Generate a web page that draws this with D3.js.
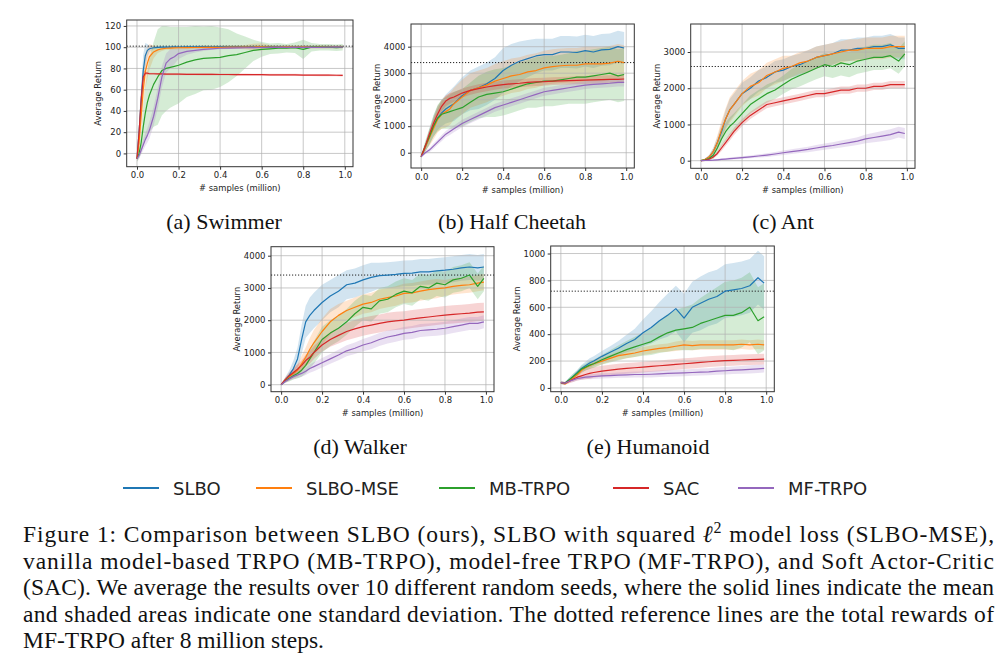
<!DOCTYPE html>
<html><head><meta charset="utf-8">
<script src="https://cdn.jsdelivr.net/npm/d3@7"></script>
<style>body{margin:0;background:#fff;} svg{display:block}</style>
</head><body><svg id="fig" width="1006" height="664"></svg>
<script>
// ---------------- DATA ----------------
const LEGEND = ["SLBO", "SLBO-MSE", "MB-TRPO", "SAC", "MF-TRPO"];
const COLORS = ["#1f77b4", "#ff7f0e", "#2ca02c", "#d62728", "#9467bd"];
const X_TICKS = [0, 0.2, 0.4, 0.6, 0.8, 1.0];
const X_SWIM = [0, 0.01, 0.02, 0.03, 0.04, 0.05, 0.06, 0.08, 0.1, 0.12, 0.14, 0.16, 0.18, 0.2, 0.24, 0.28, 0.32, 0.36, 0.4, 0.44, 0.48, 0.52, 0.56, 0.6, 0.64, 0.68, 0.72, 0.76, 0.8, 0.84, 0.88, 0.92, 0.96, 0.99];
const X_STEP = [0, 0.02, 0.04, 0.06, 0.08, 0.1, 0.12, 0.14, 0.16, 0.2, 0.24, 0.28, 0.32, 0.36, 0.4, 0.44, 0.48, 0.52, 0.56, 0.6, 0.64, 0.68, 0.72, 0.76, 0.8, 0.84, 0.88, 0.92, 0.96, 0.99];

// (a) Swimmer
const swTicks = [0, 20, 40, 60, 80, 100, 120];
const swRef = 101;
const swSLBO = [-5, 20, 50, 78, 92, 97, 98.5, 99.5, 99.8, 100, 100.2, 100.1, 100.3, 100.2, 100.4, 100.3, 100.5, 100.4, 100.5, 100.6, 100.5, 100.4, 100.6, 100.5, 100.5, 100.6, 100.5, 100.4, 100.6, 100.5, 100.6, 100.5, 100.6, 100.5];
const swSLBOsd = [3, 10, 15, 15, 12, 6, 3, 1.5, 1, 1, 1, 1, 1, 1, 1, 1, 1, 1, 1, 1, 1, 1, 1.2, 1.2, 1, 1, 1, 1, 1, 1, 1, 1, 1, 1];
const swMSE = [-5, 10, 35, 60, 77, 85, 91, 95.5, 97.5, 98.5, 99, 99.2, 99.4, 99.5, 99.6, 99.7, 99.8, 99.8, 99.9, 100, 100, 100.1, 100.2, 100.3, 100.1, 100.2, 100.3, 100.2, 100.3, 100.2, 100.3, 100.3, 100.2, 100.3];
const swMSEsd = [3, 8, 15, 18, 16, 15, 12, 6, 3, 2, 1.5, 1.5, 1.5, 1.5, 1.5, 1.5, 1.5, 1.5, 1.5, 1.5, 1.5, 2, 3, 3.5, 2, 1.5, 1.5, 1.5, 1.5, 1.5, 1.5, 1.5, 1.5, 1.5];
const swMB = [-5, 0, 10, 25, 38, 48, 55, 65, 72, 78, 80, 81, 82, 83, 86, 88, 89.5, 90, 90.5, 92, 93, 95, 97, 98, 98.5, 99, 99, 99.5, 98, 100, 100, 100, 99.5, 100];
const swMBsd = [3, 5, 10, 18, 25, 30, 35, 40, 45, 42, 40, 38, 37, 36, 33, 32, 30, 30, 28, 25, 20, 15, 10, 7, 5, 5, 4, 5, 9, 4, 3, 3, 3, 3];
const swSAC = [-5, 20, 50, 72, 75.5, 75.5, 75, 75, 74.8, 74.8, 74.7, 74.7, 74.6, 74.6, 74.5, 74.5, 74.4, 74.4, 74.3, 74.3, 74.2, 74.2, 74.1, 74.1, 74, 74, 73.9, 73.9, 73.8, 73.8, 73.7, 73.7, 73.6, 73.5];
const swSACsd = [3, 8, 10, 6, 2, 1.5, 1, 1, 1, 1, 1, 1, 1, 1, 1, 1, 1, 1, 1, 1, 1, 1, 1, 1, 1, 1, 1, 1, 1, 1, 1, 1, 1, 1];
const swMF = [-5, -2, 3, 8, 13, 17, 22, 35, 52, 72, 85, 89, 91, 94, 96, 97, 98, 98.5, 99, 99.2, 99.4, 99.5, 99.6, 99.7, 99.7, 99.8, 99.8, 99.8, 99.9, 99.9, 99.9, 100, 100, 100];
const swMFsd = [2, 3, 4, 5, 6, 7, 8, 9, 10, 10, 9, 9, 7, 5, 3, 2, 1.5, 1, 1, 1, 1, 1, 1, 1, 1, 1, 1, 1, 1, 1, 1, 1, 1, 1];

// (b) Half Cheetah
const hcTicks = [0, 1000, 2000, 3000, 4000];
const hcRef = 3400;
const hcSLBO = [-150, 200, 600, 1000, 1300, 1500, 1650, 1750, 1850, 2150, 2350, 2450, 2600, 2800, 3100, 3300, 3450, 3550, 3650, 3700, 3700, 3800, 3800, 3780, 3850, 3800, 3880, 3900, 4000, 3950];
const hcSLBOsd = [50, 150, 300, 400, 450, 500, 550, 600, 650, 700, 750, 800, 800, 800, 850, 800, 750, 700, 650, 600, 600, 600, 600, 600, 600, 600, 600, 600, 600, 600];
const hcMSE = [-150, 200, 550, 900, 1250, 1450, 1550, 1650, 1850, 2100, 2350, 2450, 2550, 2700, 2800, 2900, 2950, 3050, 3100, 3200, 3250, 3280, 3300, 3300, 3350, 3350, 3350, 3380, 3450, 3400];
const hcMSEsd = [50, 150, 300, 400, 500, 550, 600, 600, 600, 650, 650, 650, 650, 650, 650, 650, 650, 650, 650, 650, 650, 650, 650, 650, 650, 650, 650, 650, 650, 650];
const hcMB = [-150, 250, 600, 1000, 1300, 1450, 1500, 1550, 1600, 1700, 1900, 2100, 2200, 2250, 2300, 2400, 2500, 2600, 2650, 2700, 2700, 2750, 2800, 2850, 2850, 2900, 2950, 3000, 2900, 2950];
const hcMBsd = [50, 200, 300, 400, 500, 550, 600, 650, 700, 700, 750, 800, 850, 900, 900, 900, 900, 900, 950, 950, 950, 950, 950, 1000, 1000, 1000, 1000, 1000, 1000, 1000];
const hcSAC = [-150, 250, 700, 1100, 1450, 1750, 1950, 2050, 2100, 2250, 2350, 2420, 2480, 2530, 2570, 2600, 2620, 2650, 2670, 2680, 2700, 2710, 2720, 2730, 2740, 2750, 2760, 2770, 2770, 2780];
const hcSACsd = [30, 100, 150, 200, 200, 200, 200, 200, 180, 170, 160, 160, 160, 150, 150, 150, 150, 150, 150, 150, 150, 150, 150, 150, 150, 150, 150, 150, 150, 150];
const hcMF = [-150, 0, 100, 250, 400, 550, 700, 800, 900, 1100, 1250, 1400, 1550, 1700, 1800, 1900, 2000, 2100, 2200, 2300, 2350, 2400, 2450, 2500, 2550, 2580, 2600, 2620, 2650, 2650];
const hcMFsd = [30, 60, 80, 100, 100, 120, 120, 130, 130, 140, 140, 150, 150, 150, 150, 150, 150, 150, 150, 150, 150, 150, 150, 150, 150, 150, 150, 150, 150, 150];

// (c) Ant
const antTicks = [0, 1000, 2000, 3000];
const antRef = 2600;
const antSLBO = [0, 30, 100, 250, 500, 800, 1150, 1400, 1550, 1850, 2000, 2200, 2300, 2450, 2500, 2600, 2650, 2750, 2850, 2900, 2950, 3050, 3050, 3100, 3100, 3150, 3150, 3200, 3100, 3100];
const antSLBOsd = [10, 30, 60, 100, 150, 200, 250, 300, 300, 300, 300, 300, 300, 300, 300, 300, 300, 300, 300, 300, 300, 300, 300, 300, 300, 300, 300, 300, 300, 300];
const antMSE = [0, 30, 100, 250, 500, 850, 1150, 1400, 1550, 1850, 2050, 2150, 2350, 2450, 2550, 2600, 2700, 2750, 2850, 2900, 2950, 3000, 3050, 3050, 3100, 3100, 3100, 3150, 3150, 3150];
const antMSEsd = [10, 30, 60, 100, 200, 250, 300, 350, 350, 350, 350, 350, 350, 350, 350, 300, 300, 300, 300, 300, 300, 300, 300, 300, 300, 300, 300, 300, 300, 300];
const antMB = [0, 20, 60, 150, 350, 600, 800, 950, 1050, 1300, 1550, 1700, 1850, 1950, 2100, 2250, 2350, 2450, 2550, 2650, 2600, 2700, 2650, 2750, 2800, 2850, 2850, 2900, 2750, 2950];
const antMBsd = [10, 20, 50, 100, 150, 200, 250, 250, 250, 250, 250, 250, 250, 250, 250, 280, 300, 300, 300, 320, 320, 350, 350, 350, 350, 350, 350, 350, 350, 350];
const antSAC = [0, 10, 40, 100, 200, 350, 500, 650, 800, 1050, 1250, 1400, 1550, 1600, 1650, 1700, 1750, 1800, 1850, 1850, 1900, 1950, 1950, 2000, 2000, 2050, 2050, 2100, 2100, 2100];
const antSACsd = [5, 10, 20, 40, 60, 80, 90, 100, 100, 100, 100, 100, 100, 100, 100, 100, 100, 100, 100, 100, 100, 100, 100, 100, 100, 100, 100, 100, 100, 100];
const antMF = [0, 5, 10, 15, 25, 35, 45, 55, 65, 85, 105, 130, 155, 185, 220, 250, 280, 310, 350, 390, 420, 460, 500, 540, 600, 640, 680, 720, 790, 750];
const antMFsd = [5, 10, 15, 20, 25, 30, 30, 35, 35, 40, 40, 45, 50, 55, 60, 65, 70, 75, 80, 85, 90, 95, 100, 110, 120, 130, 140, 150, 150, 150];

// (d) Walker
const wkTicks = [0, 1000, 2000, 3000, 4000];
const wkRef = 3400;
const wkSLBO = [0, 150, 300, 500, 800, 1400, 1950, 2150, 2300, 2550, 2750, 2900, 3100, 3150, 3250, 3330, 3380, 3400, 3420, 3450, 3460, 3500, 3500, 3530, 3550, 3580, 3620, 3650, 3620, 3650];
const wkSLBOsd = [20, 80, 150, 250, 350, 450, 500, 550, 550, 550, 500, 500, 450, 450, 450, 450, 400, 400, 400, 400, 400, 400, 400, 400, 400, 400, 400, 400, 400, 400];
const wkMSE = [0, 150, 250, 350, 450, 650, 850, 1100, 1300, 1650, 1950, 2150, 2300, 2400, 2500, 2550, 2650, 2700, 2750, 2830, 2850, 2900, 2950, 2980, 3000, 3050, 3080, 3100, 3150, 3180];
const wkMSEsd = [20, 80, 120, 150, 200, 250, 300, 350, 400, 400, 400, 350, 300, 300, 300, 300, 300, 300, 300, 300, 300, 300, 300, 300, 250, 250, 250, 250, 250, 250];
const wkMB = [0, 120, 200, 280, 350, 450, 600, 800, 1000, 1400, 1600, 1750, 1950, 2200, 2400, 2350, 2600, 2650, 2800, 2900, 2850, 3050, 3000, 3150, 3100, 3250, 3300, 3400, 3050, 3300];
const wkMBsd = [20, 60, 100, 120, 150, 200, 250, 300, 350, 400, 400, 400, 400, 400, 400, 400, 400, 400, 400, 400, 400, 400, 400, 400, 400, 400, 400, 400, 400, 400];
const wkSAC = [0, 150, 280, 380, 480, 600, 750, 850, 1000, 1230, 1400, 1530, 1650, 1730, 1800, 1850, 1900, 1950, 1980, 2000, 2040, 2070, 2100, 2130, 2160, 2180, 2200, 2220, 2250, 2260];
const wkSACsd = [20, 60, 100, 120, 150, 150, 180, 200, 200, 200, 220, 250, 270, 280, 280, 280, 280, 280, 280, 280, 280, 280, 280, 280, 280, 280, 280, 280, 280, 280];
const wkMF = [0, 100, 180, 250, 300, 350, 420, 500, 560, 680, 800, 920, 1050, 1130, 1230, 1300, 1400, 1480, 1530, 1590, 1620, 1680, 1700, 1720, 1750, 1800, 1850, 1900, 1900, 1950];
const wkMFsd = [20, 50, 60, 80, 100, 100, 120, 130, 140, 150, 150, 160, 170, 180, 190, 200, 200, 200, 200, 200, 200, 200, 200, 200, 200, 200, 200, 200, 200, 200];

// (e) Humanoid
const huTicks = [0, 200, 400, 600, 800, 1000];
const huRef = 720;
const huSLBO = [40, 35, 60, 85, 115, 145, 165, 185, 200, 235, 265, 295, 330, 360, 410, 450, 500, 540, 590, 520, 600, 630, 660, 680, 720, 730, 740, 760, 820, 780];
const huSLBOsd = [10, 10, 15, 20, 20, 25, 30, 35, 35, 40, 45, 55, 65, 80, 100, 120, 140, 160, 170, 180, 190, 200, 200, 200, 200, 200, 200, 200, 200, 200];
const huMSE = [40, 30, 50, 75, 100, 130, 150, 165, 180, 200, 220, 240, 250, 260, 275, 285, 295, 300, 310, 320, 315, 320, 320, 320, 320, 320, 325, 320, 325, 320];
const huMSEsd = [10, 10, 15, 15, 20, 20, 20, 25, 25, 25, 25, 30, 30, 30, 30, 30, 30, 30, 35, 35, 35, 35, 35, 35, 35, 35, 35, 35, 35, 35];
const huMB = [40, 35, 60, 85, 110, 140, 155, 170, 180, 210, 235, 260, 285, 305, 325, 345, 380, 410, 430, 440, 450, 480, 500, 520, 540, 540, 560, 600, 500, 530];
const huMBsd = [10, 10, 15, 20, 20, 25, 25, 30, 30, 35, 45, 55, 65, 75, 85, 100, 120, 140, 150, 160, 170, 190, 210, 230, 250, 260, 260, 260, 250, 250];
const huSAC = [40, 35, 50, 65, 80, 90, 100, 108, 115, 125, 133, 140, 145, 150, 155, 160, 165, 170, 175, 180, 185, 190, 195, 200, 203, 205, 208, 210, 213, 215];
const huSACsd = [10, 10, 15, 20, 25, 30, 35, 40, 40, 40, 40, 40, 40, 40, 40, 40, 40, 40, 40, 40, 40, 40, 40, 40, 40, 40, 40, 40, 40, 40];
const huMF = [40, 35, 50, 60, 70, 75, 80, 83, 85, 90, 92, 95, 97, 100, 100, 102, 105, 108, 110, 112, 115, 118, 120, 125, 128, 132, 135, 138, 142, 145];
const huMFsd = [10, 10, 12, 15, 15, 15, 15, 18, 18, 20, 20, 20, 22, 22, 22, 24, 24, 25, 25, 25, 25, 26, 26, 27, 28, 28, 29, 30, 30, 30];

const SUBCAPTIONS = ["(a) Swimmer", "(b) Half Cheetah", "(c) Ant", "(d) Walker", "(e) Humanoid"];
const CAPTION = [
  ["Figure 1: Comparison between SLBO (ours), SLBO with squared ", "ℓ", "2", " model loss (SLBO-MSE),"],
  ["vanilla model-based TRPO (MB-TRPO), model-free TRPO (MF-TRPO), and Soft Actor-Critic"],
  ["(SAC). We average the results over 10 different random seeds, where the solid lines indicate the mean"],
  ["and shaded areas indicate one standard deviation. The dotted reference lines are the total rewards of"],
  ["MF-TRPO after 8 million steps."]
];

// ---------------- TABLE ----------------
const panels = [
  {x: X_SWIM, means: [swSLBO, swMSE, swMB, swSAC, swMF], sds: [swSLBOsd, swMSEsd, swMBsd, swSACsd, swMFsd], yTicks: swTicks, ref: swRef},
  {x: X_STEP, means: [hcSLBO, hcMSE, hcMB, hcSAC, hcMF], sds: [hcSLBOsd, hcMSEsd, hcMBsd, hcSACsd, hcMFsd], yTicks: hcTicks, ref: hcRef},
  {x: X_STEP, means: [antSLBO, antMSE, antMB, antSAC, antMF], sds: [antSLBOsd, antMSEsd, antMBsd, antSACsd, antMFsd], yTicks: antTicks, ref: antRef},
  {x: X_STEP, means: [wkSLBO, wkMSE, wkMB, wkSAC, wkMF], sds: [wkSLBOsd, wkMSEsd, wkMBsd, wkSACsd, wkMFsd], yTicks: wkTicks, ref: wkRef},
  {x: X_STEP, means: [huSLBO, huMSE, huMB, huSAC, huMF], sds: [huSLBOsd, huMSEsd, huMBsd, huSACsd, huMFsd], yTicks: huTicks, ref: huRef}
];

// ---------------- LAYOUT ----------------
const X_DOMAIN = [-0.0495, 1.0395];
const layout = [
  {box: {l: 126.7, r: 353, t: 20, b: 166.7}, yDom: [-12.5, 125.6], cap: [224, 229]},
  {box: {l: 411, r: 634.3, t: 24, b: 168}, yDom: [-577, 4856], cap: [512, 229]},
  {box: {l: 690.7, r: 915, t: 24, b: 168.3}, yDom: [-210, 3773], cap: [783, 229]},
  {box: {l: 271, r: 494, t: 246.7, b: 391.7}, yDom: [-217, 4279], cap: [360, 454]},
  {box: {l: 550.7, r: 774.3, t: 246, b: 391.7}, yDom: [-28, 1056], cap: [648, 454]}
];
const SANS = "'DejaVu Sans', sans-serif";
const SERIF = "'Liberation Serif', 'Times New Roman', serif";

const svg = d3.select("#fig");
svg.append("rect").attr("width", 1006).attr("height", 664).attr("fill", "#fff");
const defs = svg.append("defs");

panels.forEach((p, i) => {
  const L = layout[i], B = L.box;
  const x = d3.scaleLinear().domain(X_DOMAIN).range([B.l, B.r]);
  const y = d3.scaleLinear().domain(L.yDom).range([B.b, B.t]);
  const g = svg.append("g");
  defs.append("clipPath").attr("id", "clip" + i).append("rect")
    .attr("x", B.l).attr("y", B.t).attr("width", B.r - B.l).attr("height", B.b - B.t);
  const plot = g.append("g").attr("clip-path", `url(#clip${i})`);

  // bands
  p.means.forEach((m, k) => {
    const sd = p.sds[k];
    const area = d3.area()
      .x((d, j) => x(p.x[j]))
      .y0((d, j) => y(m[j] - sd[j]))
      .y1((d, j) => y(m[j] + sd[j]));
    plot.append("path").datum(m).attr("d", area)
      .attr("fill", COLORS[k]).attr("fill-opacity", 0.2).attr("stroke", "none");
  });
  // grid
  plot.selectAll(".gx").data(X_TICKS).join("line")
    .attr("x1", d => x(d)).attr("x2", d => x(d)).attr("y1", B.t).attr("y2", B.b)
    .attr("stroke", "#b0b0b0").attr("stroke-opacity", 0.7).attr("stroke-width", 1);
  plot.selectAll(".gy").data(p.yTicks).join("line")
    .attr("y1", d => y(d)).attr("y2", d => y(d)).attr("x1", B.l).attr("x2", B.r)
    .attr("stroke", "#b0b0b0").attr("stroke-opacity", 0.7).attr("stroke-width", 1);
  // reference line
  plot.append("line").attr("x1", B.l).attr("x2", B.r).attr("y1", y(p.ref)).attr("y2", y(p.ref))
    .attr("stroke", "#222").attr("stroke-width", 1).attr("stroke-dasharray", "1.2,1.8");
  // mean lines
  p.means.forEach((m, k) => {
    const line = d3.line().x((d, j) => x(p.x[j])).y(d => y(d));
    plot.append("path").datum(m).attr("d", line)
      .attr("fill", "none").attr("stroke", COLORS[k]).attr("stroke-width", 1.2)
      .attr("stroke-linejoin", "round");
  });
  // frame
  g.append("rect").attr("x", B.l).attr("y", B.t).attr("width", B.r - B.l).attr("height", B.b - B.t)
    .attr("fill", "none").attr("stroke", "#333").attr("stroke-width", 1);
  // axes
  const xa = g.append("g").attr("transform", `translate(0,${B.b})`)
    .call(d3.axisBottom(x).tickValues(X_TICKS).tickFormat(d3.format(".1f")).tickSize(3).tickPadding(2.5));
  const ya = g.append("g").attr("transform", `translate(${B.l},0)`)
    .call(d3.axisLeft(y).tickValues(p.yTicks).tickFormat(d => String(d)).tickSize(3).tickPadding(2.5));
  [xa, ya].forEach(a => {
    a.select(".domain").remove();
    a.attr("font-family", SANS).attr("font-size", 8.5);
    a.selectAll("text").attr("fill", "#222");
    a.selectAll("line").attr("stroke", "#333");
  });
  // axis labels
  g.append("text").attr("x", (B.l + B.r) / 2).attr("y", B.b + 24.5)
    .attr("text-anchor", "middle").attr("font-family", SANS).attr("font-size", 8.4).attr("fill", "#222")
    .text("# samples (million)");
  const bb = ya.node().getBBox();
  const lx = B.l + bb.x - 3.5;
  g.append("text").attr("transform", `translate(${lx},${(B.t + B.b) / 2}) rotate(-90)`)
    .attr("text-anchor", "middle").attr("font-family", SANS).attr("font-size", 8.4).attr("fill", "#222")
    .text("Average Return");
  // subcaption
  svg.append("text").attr("x", L.cap[0]).attr("y", L.cap[1]).attr("text-anchor", "middle")
    .attr("font-family", SERIF).attr("font-size", 22).attr("fill", "#111").text(SUBCAPTIONS[i]);
});

// legend
const legX = [123, 256, 439, 613, 738];
const legY = 488;
LEGEND.forEach((name, k) => {
  svg.append("line").attr("x1", legX[k]).attr("x2", legX[k] + 36).attr("y1", legY).attr("y2", legY)
    .attr("stroke", COLORS[k]).attr("stroke-width", 2);
  svg.append("text").attr("x", legX[k] + 50).attr("y", legY + 6.5).attr("font-family", SANS)
    .attr("font-size", 18).attr("fill", "#222").text(name);
});

// caption
const capLeft = 23, capRight = 994, capBase = 542, capStep = 26.5;
CAPTION.forEach((parts, li) => {
  const t = svg.append("text").attr("x", capLeft).attr("y", capBase + li * capStep)
    .attr("font-family", SERIF).attr("font-size", 23.5).attr("fill", "#111");
  if (li < CAPTION.length - 1) t.attr("textLength", capRight - capLeft).attr("lengthAdjust", "spacing");
  if (parts.length === 1) {
    t.text(parts[0]);
  } else {
    t.append("tspan").text(parts[0]);
    t.append("tspan").attr("font-style", "italic").text(parts[1]);
    t.append("tspan").attr("dy", -9).attr("font-size", 16).text(parts[2]);
    t.append("tspan").attr("dy", 9).text(parts[3]);
  }
});
</script></body></html>
